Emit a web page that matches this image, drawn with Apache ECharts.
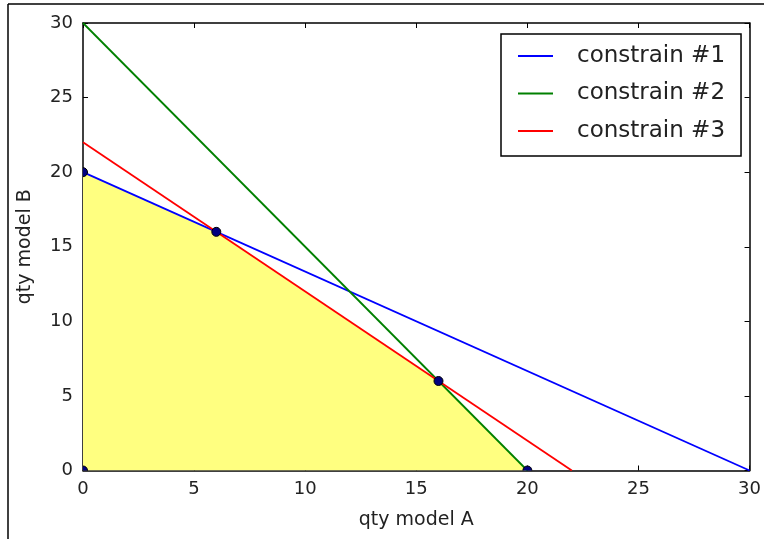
<!DOCTYPE html>
<html><head><meta charset="utf-8">
<script src="https://cdn.jsdelivr.net/npm/echarts@6/dist/echarts.min.js"></script>
<style>html,body{margin:0;padding:0;background:#fff}#c{width:764px;height:539px}</style>
</head><body><div id="c"></div>
<script>
const axisTicks = [0, 5, 10, 15, 20, 25, 30];
const seriesNames = ['constrain #1', 'constrain #2', 'constrain #3'];
const constrain1 = [[0, 20], [30, 0]];
const constrain2 = [[0, 30], [20, 0]];
const constrain3 = [[0, 22], [22, 0]];
const feasibleRegion = [[0, 20], [6, 16], [16, 6], [20, 0]];
const vertices = [[0, 0], [0, 20], [6, 16], [16, 6], [20, 0]];
const xName = 'qty model A';
const yName = 'qty model B';

const font = 'DejaVu Sans';
const chart = echarts.init(document.getElementById('c'), null, {renderer: 'canvas'});
const baseAxis = {
  type: 'value', min: axisTicks[0], max: axisTicks[axisTicks.length - 1], interval: 5,
  splitLine: {show: false},
  axisLine: {show: true, onZero: false, lineStyle: {color: '#000', width: 1.5}},
  axisTick: {show: true, inside: true, length: 5, lineStyle: {color: '#000', width: 1}}
};
chart.setOption({
  animation: false,
  grid: {left: 83, top: 23, right: 11, bottom: 68.5, containLabel: false},
  xAxis: [
    Object.assign({}, baseAxis, {position: 'bottom', name: xName, nameLocation: 'middle', nameGap: 40,
      nameTextStyle: {fontFamily: font, fontSize: 19, color: '#222'},
      axisLabel: {fontFamily: font, fontSize: 18, color: '#222', margin: 10}}),
    Object.assign({}, baseAxis, {position: 'top', axisLabel: {show: false}})
  ],
  yAxis: [
    Object.assign({}, baseAxis, {position: 'left', name: yName, nameLocation: 'middle', nameGap: 48,
      nameTextStyle: {fontFamily: font, fontSize: 19, color: '#222'},
      axisLabel: {fontFamily: font, fontSize: 18, color: '#222', margin: 10}}),
    Object.assign({}, baseAxis, {position: 'right', axisLabel: {show: false}})
  ],
  legend: {
    orient: 'vertical', left: 501, top: 34,
    data: seriesNames,
    backgroundColor: '#fff', borderColor: '#000', borderWidth: 1.5, borderRadius: 0,
    padding: [9, 16, 12, 17],
    itemWidth: 35, itemHeight: 2, itemGap: 11.5,
    icon: 'rect',
    textStyle: {fontFamily: font, fontSize: 23, color: '#222', lineHeight: 26, padding: [0, 0, 0, 19]}
  },
  series: [
    {type: 'line', name: 'region', data: feasibleRegion, symbol: 'none', silent: true,
      lineStyle: {width: 0}, areaStyle: {color: '#ffff80', opacity: 1, origin: 'start'}, z: 1},
    {type: 'line', name: seriesNames[0], data: constrain1, symbol: 'none', color: '#0000ff', lineStyle: {width: 1.8, color: '#0000ff'}, z: 3},
    {type: 'line', name: seriesNames[1], data: constrain2, symbol: 'none', color: '#008000', lineStyle: {width: 1.8, color: '#008000'}, z: 3},
    {type: 'line', name: seriesNames[2], data: constrain3, symbol: 'none', color: '#ff0000', lineStyle: {width: 1.8, color: '#ff0000'}, z: 3},
    {type: 'custom', data: vertices, clip: true, z: 4,
      renderItem: function (params, api) {
        const p = api.coord([api.value(0), api.value(1)]);
        return {type: 'circle', shape: {cx: p[0], cy: p[1], r: 4.5},
          style: {fill: '#00007f', stroke: '#000', lineWidth: 1}};
      }}
  ],
  graphic: [
    {type: 'line', shape: {x1: 8, y1: 4, x2: 8, y2: 539}, style: {stroke: '#000', lineWidth: 1.5}, z: 100},
    {type: 'line', shape: {x1: 8, y1: 4, x2: 764, y2: 4}, style: {stroke: '#000', lineWidth: 1.5}, z: 100}
  ]
});
</script></body></html>
